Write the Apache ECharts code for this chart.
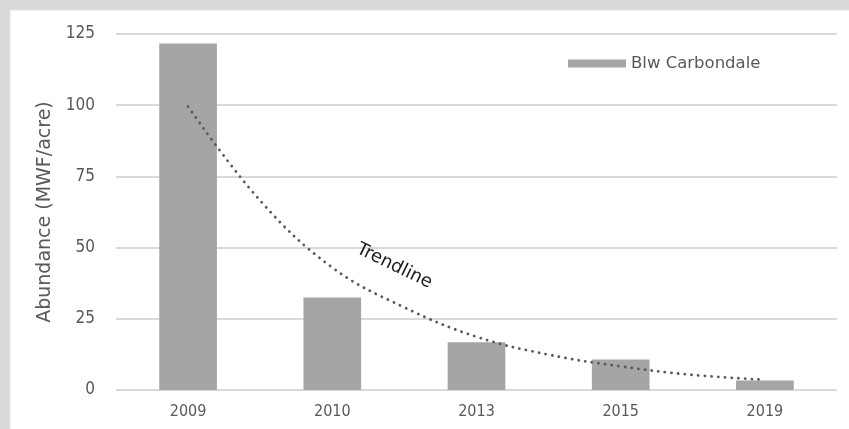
<!DOCTYPE html>
<html>
<head>
<meta charset="utf-8">
<script src="https://cdn.jsdelivr.net/npm/echarts@6/dist/echarts.min.js"></script>
<style>
  html, body { margin: 0; padding: 0; background: #d9d9d9; }
  #chart { width: 849px; height: 429px; }
</style>
</head>
<body>
<div id="chart"></div>
<script>
// Sampling years and mean abundance below Carbondale
const years = ['2009', '2010', '2013', '2015', '2019'];
const abundance = [121.7, 32.5, 16.8, 10.7, 3.3];

// Exponential trendline as drawn, sampled at each year and midway between years
const trendPos = [0, 0.5, 1, 1.5, 2, 2.5, 3, 3.5, 4];
const trendVal = [99.5, 66.5, 43, 29, 18.7, 12.4, 8.3, 5.3, 3.6];

const yTicks = [0, 25, 50, 75, 100, 125];
const seriesName = 'Blw Carbondale';
const yTitle = 'Abundance (MWF/acre)';
const trendText = 'Trendline';

const FONT = 'DejaVu Sans Condensed';
const FONT_WIDE = 'DejaVu Sans';
const TEXT_GREY = '#595959';

const chart = echarts.init(document.getElementById('chart'), null, { renderer: 'canvas' });

const panel = { type: 'rect', z: -10, shape: { x: 10, y: 10, width: 900, height: 500 },
  style: { fill: '#ffffff', stroke: '#e2e2e2', lineWidth: 1 } };

const option = {
  backgroundColor: '#d9d9d9',
  animation: false,
  graphic: [panel],
  grid: { left: 116, right: 12, top: 34, bottom: 39 },
  legend: {
    data: [seriesName],
    left: 563, top: 50,
    itemWidth: 58, itemHeight: 8, itemGap: 6,
    textStyle: { fontFamily: FONT_WIDE, fontSize: 16.5, color: TEXT_GREY },
    icon: 'rect'
  },
  xAxis: [
    {
      type: 'category',
      data: years,
      axisLine: { show: false },
      axisTick: { show: false },
      axisLabel: { fontFamily: FONT, fontSize: 16, color: TEXT_GREY, margin: 14 }
    },
    { type: 'value', min: -0.5, max: 4.5, show: false }
  ],
  yAxis: {
    type: 'value',
    min: yTicks[0], max: yTicks[yTicks.length - 1], interval: 25,
    name: yTitle,
    nameLocation: 'middle',
    nameGap: 53,
    nameTextStyle: { fontFamily: FONT_WIDE, fontSize: 19, color: TEXT_GREY },
    axisLine: { show: false },
    axisTick: { show: false },
    axisLabel: { fontFamily: FONT, fontSize: 17, color: TEXT_GREY, margin: 21 },
    splitLine: { lineStyle: { color: '#d9d9d9', width: 2 } }
  },
  series: [
    {
      name: seriesName,
      type: 'bar',
      data: abundance,
      barWidth: '40%',
      itemStyle: { color: '#a5a5a5' }
    },
    {
      name: 'trend',
      type: 'line',
      xAxisIndex: 1,
      data: trendPos.map((p, i) => [p, trendVal[i]]),
      smooth: 0.4,
      symbol: 'none',
      silent: true,
      lineStyle: { color: '#595959', width: 2.8, type: [0.1, 6.6], cap: 'round' },
      z: 5
    }
  ]
};

chart.setOption(option);

// Place the trendline caption along the curve
const anchor = chart.convertToPixel({ xAxisIndex: 1, yAxisIndex: 0 }, [1.43, 43.5]);
chart.setOption({
  graphic: [
    panel,
    { type: 'text', x: anchor[0], y: anchor[1], rotation: -26 * Math.PI / 180, z: 10,
      style: { text: trendText, fontFamily: FONT_WIDE, fontSize: 18, fill: '#1a1a1a',
               align: 'center', verticalAlign: 'middle' } }
  ]
});
</script>
</body>
</html>
